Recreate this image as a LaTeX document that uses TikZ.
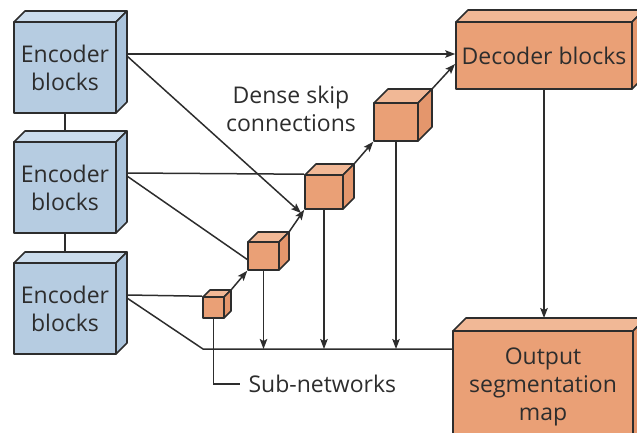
\documentclass[tikz,border=0pt]{standalone}
\usepackage{fontspec}
\setmainfont{Open Sans}
\usetikzlibrary{arrows.meta}
\pgfdeclarelayer{bg}
\pgfsetlayers{bg,main}

\definecolor{ink}{RGB}{45,45,45}
\definecolor{encfront}{RGB}{182,204,225}
\definecolor{enctop}{RGB}{203,220,236}
\definecolor{encside}{RGB}{170,195,219}
\definecolor{decfront}{RGB}{234,160,118}
\definecolor{dectop}{RGB}{241,184,150}
\definecolor{decside}{RGB}{228,150,108}

\tikzset{
  face/.style={draw=ink, line width=1.6pt, line join=round},
  link/.style={draw=ink, line width=1.5pt},
  arr/.style={link, -{Stealth[length=10pt,width=7.5pt,inset=2pt]}},
  label/.style={text=ink, font=\fontsize{23}{28}\selectfont, align=center}
}

% A box drawn in oblique projection:
% #1 name, #2 left, #3 top, #4 width, #5 height, #6 depth, #7 colour set, #8 text
\newcommand{\solidblock}[8]{%
  \filldraw[face,fill=#7top] (#2,#3) -- ++(#6,-#6) -- ++(#4,0) -- ++(-#6,#6) -- cycle;
  \filldraw[face,fill=#7side] (#2+#4,#3) -- ++(#6,-#6) -- ++(0,#5) -- ++(-#6,#6) -- cycle;
  \node[face,fill=#7front,label,minimum width=#4pt,minimum height=#5pt,inner sep=0pt]
    (#1) at (#2+#4/2,#3+#5/2) {#8};
  \coordinate (#1-tr) at (#2+#4+#6,#3-#6);
  \coordinate (#1-back) at (#2,#3-#6);
}

\begin{document}
\begin{tikzpicture}[x=1pt,y=-1pt]
\useasboundingbox (0,0) rectangle (637,432);
\clip (0,0) rectangle (637,432);

% encoder column
\solidblock{e1}{14}{22}{102}{91}{11}{enc}{Encoder\\blocks}
\solidblock{e2}{14}{142}{102}{91}{11}{enc}{Encoder\\blocks}
\solidblock{e3}{14}{263}{102}{91}{11}{enc}{Encoder\\blocks}

% decoder and output
\solidblock{dec}{456}{22}{176}{67}{12}{dec}{Decoder blocks}
\solidblock{out}{453}{331}{180}{120}{13}{dec}{}
\node[label,anchor=north] (outtext) at (543,344) {Output\\segmentation\\map};

% nested sub-network cubes
\solidblock{cA}{203}{297}{21}{21}{7}{dec}{}
\solidblock{cB}{248}{242}{31}{28}{10}{dec}{}
\solidblock{cC}{305}{175}{38}{34}{11}{dec}{}
\solidblock{cD}{374}{103}{44}{38}{14}{dec}{}

% labels
\node[label] (dense) at (291,109) {Dense skip\\connections};
\node[label,anchor=west] (subnet) at (245,384) {Sub-networks};

\begin{pgfonlayer}{bg}
  % links between encoder stages
  \draw[link] (e1.south) -- (e2.north);
  \draw[link] (e2.south) -- (e3.north);

  % first encoder
  \coordinate (e1a) at (127,54);
  \coordinate (e1b) at (127,56);
  \coordinate (hitC) at (301,213);
  \draw[arr] (e1a) -- (e1a -| dec.west);
  \draw[arr] (e1b) -- (hitC);

  % second encoder
  \coordinate (e2a) at (127,173);
  \coordinate (e2b) at (127,176);
  \coordinate (hitB) at (248,260);
  \draw[link] (e2a) -- (cC.north west);
  \draw[link] (e2b) -- (hitB);

  % third encoder and the bottom bus
  \coordinate (e3a) at (127,295);
  \coordinate (e3b) at (127,298);
  \coordinate (bus) at (203,349);
  \draw[link] (e3a) -- (cA.north west);
  \draw[link] (e3b) -- (bus) -- (bus -| out.west);

  % cube chain
  \coordinate (hitD) at (455,64);
  \draw[arr] (cA-tr) -- (cB.south west);
  \draw[arr] (cB-tr) -- (cC.south west);
  \draw[arr] (cC-tr) -- (cD.south west);
  \draw[arr] (cD-tr) -- (hitD);

  % drops onto the bus
  \draw[arr] (cB.south) -- (cB.south |- bus);
  \draw[arr] (cC.south) -- (cC.south |- bus);
  \draw[arr] (cD.south) -- (cD.south |- bus);
  \coordinate (subend) at (240,384);
  \draw[link] (cA.south) |- (subend);

  % decoder to output
  \draw[arr] (dec.south) -- (dec.south |- out-back);
\end{pgfonlayer}
\end{tikzpicture}
\end{document}
